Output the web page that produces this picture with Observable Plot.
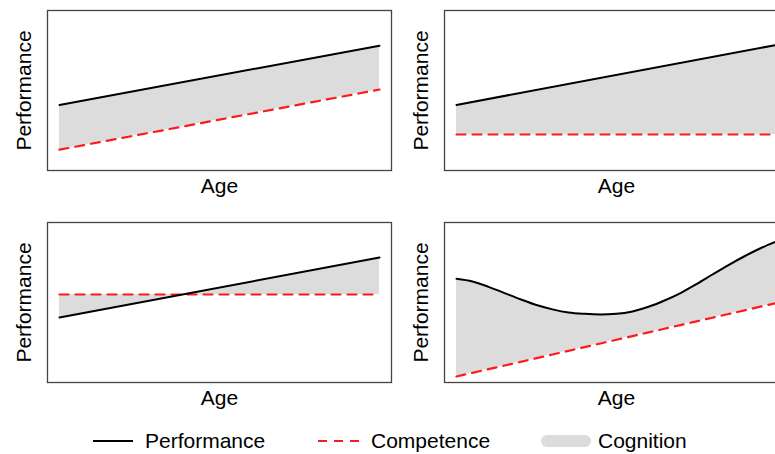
<!DOCTYPE html>
<html>
<head>
<meta charset="utf-8">
<script src="https://cdn.jsdelivr.net/npm/d3@7"></script>
<script src="https://cdn.jsdelivr.net/npm/@observablehq/plot@0.6"></script>
<style>
  html, body { margin: 0; padding: 0; background: #fff; overflow: hidden; width: 775px; height: 454px; }
  #root { position: relative; width: 775px; height: 454px; overflow: hidden; font-family: "Liberation Sans", Arial, Helvetica, sans-serif; }
  .panel { position: absolute; width: 395px; height: 205px; }
  .panel svg { max-width: none !important; }
  #legend { position: absolute; left: 0; top: 420px; }
</style>
</head>
<body>
<div id="root">
  <div class="panel" id="p1" style="left:0px;top:0px"></div>
  <div class="panel" id="p2" style="left:397px;top:0px"></div>
  <div class="panel" id="p3" style="left:0px;top:212px"></div>
  <div class="panel" id="p4" style="left:397px;top:212px"></div>
  <svg id="legend" width="775" height="34"></svg>
</div>
<script>
// ---- Data (age as 0..1, performance in arbitrary units 0..100) ----
const ageLinear = [0, 1];

// Panel 1 (top-left): both rising
const perf1 = [41, 78];
const comp1 = [13, 50.6];

// Panel 2 (top-right): performance rising, competence flat
const perf2 = [41, 78.5];
const comp2 = [22.5, 22.5];

// Panel 3 (bottom-left): performance crosses flat competence
const perf3 = [40.6, 78.1];
const comp3 = [55, 55];

// Panel 4 (bottom-right): U-shaped performance above rising competence
const ageCurve = [0, 0.05, 0.1, 0.15, 0.2, 0.25, 0.3, 0.35, 0.4, 0.45, 0.5,
                  0.55, 0.6, 0.65, 0.7, 0.75, 0.8, 0.85, 0.9, 0.95, 1.0];
const perf4 = [64.8, 63.1, 59.8, 55.9, 52.0, 48.4, 45.7, 43.75, 42.9, 42.5, 42.9,
               44.4, 47.3, 51.25, 55.9, 61.5, 67.5, 73.4, 78.9, 83.9, 88.2];
const comp4 = [3.75, 6.05, 8.35, 10.6, 12.9, 15.2, 17.5, 19.8, 22.1, 24.4, 26.7,
               29.0, 31.3, 33.6, 35.9, 38.2, 40.5, 42.8, 45.1, 47.4, 49.7];

// Legend
const legendLabels = ["Performance", "Competence", "Cognition"];

const FONT = '"Liberation Sans", Arial, Helvetica, sans-serif';
const FILL = "#dcdcdc";
const RED = "#ff1a1a";

function panel(ages, perf, comp, curve) {
  const rows = ages.map((a, i) => ({age: a, perf: perf[i], comp: comp[i]}));
  return Plot.plot({
    width: 395,
    height: 205,
    marginLeft: 47,
    marginRight: 4,
    marginTop: 10,
    marginBottom: 35,
    style: {fontFamily: FONT, background: "transparent", overflow: "visible", maxWidth: "none"},
    x: {domain: [0, 1], insetLeft: 12, insetRight: 12, axis: null},
    y: {domain: [0, 100], axis: null},
    marks: [
      Plot.areaY(rows, {x: "age", y1: "comp", y2: "perf", fill: FILL, curve}),
      Plot.line(rows, {x: "age", y: "comp", stroke: RED, strokeWidth: 2.2, strokeDasharray: "9,7", curve}),
      Plot.line(rows, {x: "age", y: "perf", stroke: "#000", strokeWidth: 2, curve}),
      Plot.frame({stroke: "#444", strokeWidth: 1.3}),
      Plot.text(["Age"], {frameAnchor: "bottom", dy: 22, fontSize: 21, fill: "#000", textAnchor: "middle"}),
      Plot.text(["Performance"], {frameAnchor: "left", dx: -23, rotate: -90, fontSize: 21, fill: "#000", textAnchor: "middle"})
    ]
  });
}

document.getElementById("p1").append(panel(ageLinear, perf1, comp1, "linear"));
document.getElementById("p2").append(panel(ageLinear, perf2, comp2, "linear"));
document.getElementById("p3").append(panel(ageLinear, perf3, comp3, "linear"));
document.getElementById("p4").append(panel(ageCurve, perf4, comp4, "monotone-x"));

// Legend
const lg = d3.select("#legend");
const cy = 21;
lg.append("line").attr("x1", 93).attr("x2", 133).attr("y1", cy).attr("y2", cy)
  .attr("stroke", "#000").attr("stroke-width", 2);
lg.append("line").attr("x1", 318).attr("x2", 360).attr("y1", cy).attr("y2", cy)
  .attr("stroke", RED).attr("stroke-width", 2.2).attr("stroke-dasharray", "9,7");
lg.append("rect").attr("x", 541).attr("y", cy - 6).attr("width", 50).attr("height", 12)
  .attr("rx", 6).attr("fill", FILL);
const lx = [145, 371, 598];
legendLabels.forEach((t, i) => {
  lg.append("text").attr("x", lx[i]).attr("y", cy).attr("dy", "0.35em")
    .attr("font-family", FONT).attr("font-size", 21).attr("fill", "#000").text(t);
});
</script>
</body>
</html>
